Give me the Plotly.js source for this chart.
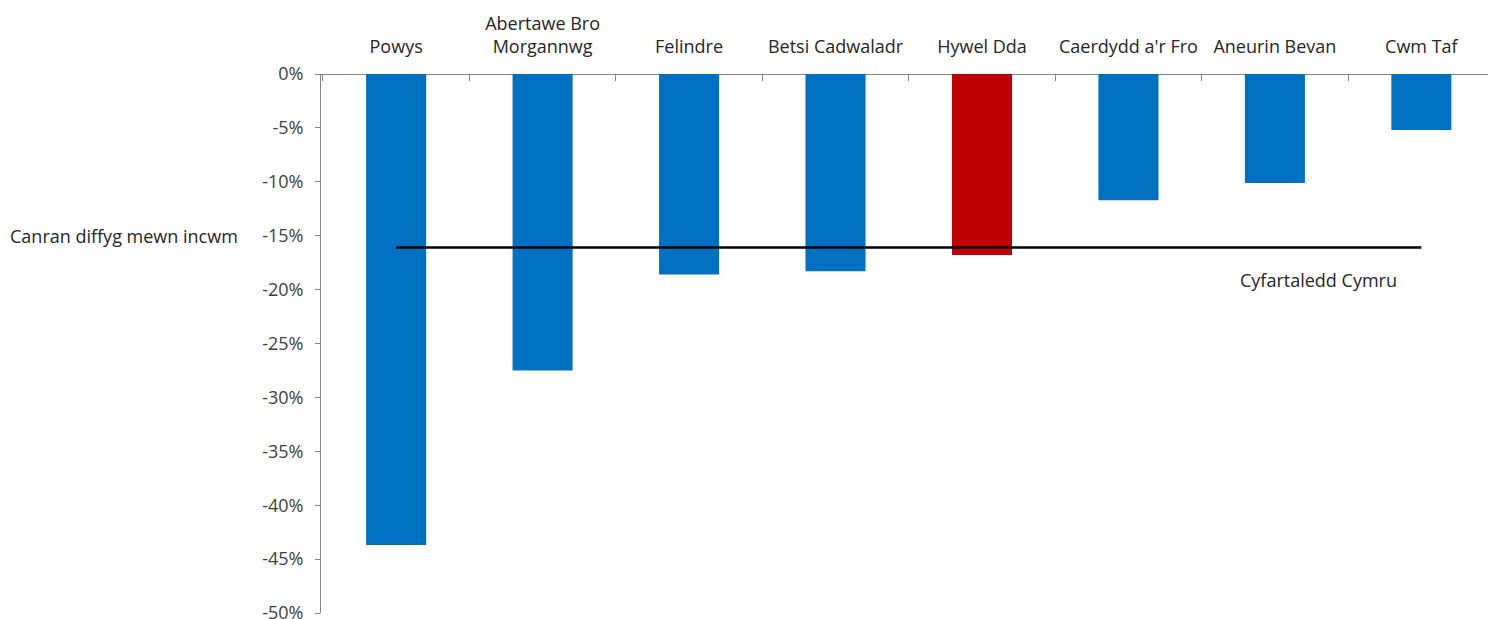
<!DOCTYPE html>
<html>
<head>
<meta charset="utf-8">
<script src="https://cdn.plot.ly/plotly-3.0.1.min.js"></script>
<style>html,body{margin:0;padding:0;background:#fff;}#chart{width:1488px;height:619px;}</style>
</head>
<body>
<div id="chart"></div>
<script>
const categories = ["Powys", "Abertawe Bro<br>Morgannwg", "Felindre", "Betsi Cadwaladr", "Hywel Dda", "Caerdydd a'r Fro", "Aneurin Bevan", "Cwm Taf"];
const deficitPct = [-43.7, -27.5, -18.6, -18.3, -16.8, -11.7, -10.1, -5.2];
const barColors = ["#0070C0", "#0070C0", "#0070C0", "#0070C0", "#C00000", "#0070C0", "#0070C0", "#0070C0"];
const walesAverage = -16.1;
const walesAverageLabel = "Cyfartaledd Cymru";
const yAxisLabel = "Canran diffyg mewn incwm";
const yTickVals = [0, -5, -10, -15, -20, -25, -30, -35, -40, -45, -50];
const yTickText = ["0%", "-5%", "-10%", "-15%", "-20%", "-25%", "-30%", "-35%", "-40%", "-45%", "-50%"];

const FONT = "'Open Sans', 'Noto Sans', sans-serif";
const FS = 18;

const traces = [
  {
    type: "bar",
    x: categories,
    y: deficitPct,
    marker: {color: barColors},
    hoverinfo: "x+y",
    showlegend: false
  },
  {
    type: "scatter",
    mode: "lines",
    x: [categories[0], categories[categories.length - 1]],
    y: [walesAverage, walesAverage],
    line: {color: "#000000", width: 2.5},
    showlegend: false,
    hoverinfo: "skip"
  }
];

const layout = {
  width: 1488,
  height: 619,
  margin: {l: 321, r: 0, t: 74, b: 6, pad: 0},
  paper_bgcolor: "#ffffff",
  plot_bgcolor: "#ffffff",
  bargap: 0.59,
  font: {family: FONT, size: FS, color: "#262626"},
  xaxis: {
    type: "category",
    side: "top",
    range: [-0.513, 7.455],
    showgrid: false,
    zeroline: false,
    showline: false,
    ticks: "inside",
    tickson: "boundaries",
    ticklen: 7,
    tickcolor: "#868686",
    tickwidth: 1,
    tickangle: 0,
    tickfont: {family: FONT, size: FS, color: "#262626"},
    ticklabelstandoff: 16,
    fixedrange: true
  },
  yaxis: {
    range: [-50, 0],
    tickvals: yTickVals,
    ticktext: yTickText,
    showgrid: false,
    zeroline: true,
    zerolinecolor: "#868686",
    zerolinewidth: 1,
    showline: true,
    linecolor: "#868686",
    linewidth: 1,
    ticks: "outside",
    ticklen: 5,
    tickcolor: "#868686",
    tickfont: {family: FONT, size: FS, color: "#404040"},
    ticklabelstandoff: 8,
    ticklabeloverflow: "allow",
    fixedrange: true
  },
  annotations: [
    {
      text: yAxisLabel,
      xref: "paper", yref: "y",
      x: 0, y: -15,
      xshift: -313,
      xanchor: "left", yanchor: "middle",
      showarrow: false,
      font: {family: FONT, size: FS, color: "#262626"}
    },
    {
      text: walesAverageLabel,
      xref: "x", yref: "y",
      x: 6.3, y: -19.1,
      xanchor: "center", yanchor: "middle",
      showarrow: false,
      font: {family: FONT, size: FS, color: "#262626"}
    }
  ]
};

Plotly.newPlot("chart", traces, layout, {displayModeBar: false, staticPlot: true});
</script>
</body>
</html>
